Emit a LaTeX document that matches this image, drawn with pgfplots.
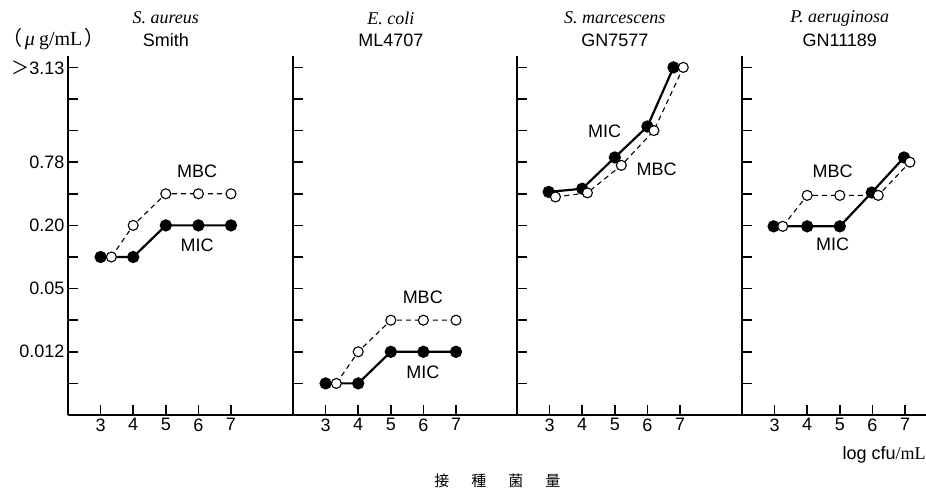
\documentclass[border=0pt]{standalone}
\usepackage{fontspec}
\setmainfont{Liberation Sans}
\newfontfamily\serif{Liberation Serif}
\newfontfamily\cjk{Noto Sans CJK JP}
\usepackage{pgfplots}
\pgfplotsset{compat=1.18}

\newcommand{\lbl}{\fontsize{18}{20}\selectfont}

\pgfplotsset{
  panel/.style={
    scale only axis, x=32.6pt, y=31.6pt,
    xmin=2, xmax=8.9, ymin=0, ymax=11.35,
    axis x line=bottom, axis y line=left,
    axis line style={-, line width=1.5pt},
    tick align=inside, major tick length=10pt,
    tick style={line width=1.5pt, black},
    xtick={3,4,5,6,7}, xticklabels={3,4,5,6,7},
    ytick={1,...,11}, yticklabels={},
    tick label style={font=\lbl},
    clip=false,
  },
  mic/.style={black, line width=2.2pt, mark=*, mark size=5pt,
    mark options={solid, fill=black}},
  mbc/.style={black, line width=1.1pt, dash pattern=on 5pt off 4pt,
    mark=*, mark size=5pt, mark options={solid, fill=white}},
}

\begin{document}
\begin{tikzpicture}
\path[use as bounding box] (-68pt,-77pt) rectangle (858pt,415pt);

% S. aureus
\begin{axis}[panel, at={(0pt,0pt)}, anchor=south west,
  yticklabels={,0.012,,0.05,,0.20,,0.78,,,{\cjk ＞}3.13}]
\addplot[mic] coordinates {(3,5) (4,5) (5,6) (6,6) (7,6)};
\addplot[mbc] coordinates {(3.33,5) (4,6) (5,7) (6,7) (7,7)};
\node[font=\lbl] at (axis cs:5.96,7.71) {MBC};
\node[font=\lbl] at (axis cs:5.96,5.37) {MIC};
\node[font=\lbl] at (axis cs:5,12.56) {\serif\itshape S. aureus};
\node[font=\lbl] at (axis cs:5,11.87) {Smith};
\node[font={\fontsize{20}{22}\selectfont}] at (axis cs:1.56,11.9)
  {{\cjk （}\hspace{2pt}{\serif\itshape μ}\hspace{4pt}{\serif g/mL}\hspace{2pt}{\cjk ）}};
\end{axis}

% E. coli
\begin{axis}[panel, at={(225pt,0pt)}, anchor=south west]
\addplot[mic] coordinates {(3,1) (4,1) (5,2) (6,2) (7,2)};
\addplot[mbc] coordinates {(3.33,1) (4,2) (5,3) (6,3) (7,3)};
\node[font=\lbl] at (axis cs:5.98,3.72) {MBC};
\node[font=\lbl] at (axis cs:5.98,1.35) {MIC};
\node[font=\lbl] at (axis cs:5,12.56) {\serif\itshape E. coli};
\node[font=\lbl] at (axis cs:5,11.87) {ML4707};
\end{axis}

% S. marcescens
\begin{axis}[panel, at={(449pt,0pt)}, anchor=south west]
\addplot[mic] coordinates {(2.97,7.06) (4.0,7.16) (5.0,8.15) (6.0,9.13) (6.8,11.0)};
\addplot[mbc] coordinates {(3.18,6.9) (4.16,7.03) (5.2,7.9) (6.2,9.0) (7.1,11.0)};
\node[font=\lbl] at (axis cs:4.69,8.97) {MIC};
\node[font=\lbl] at (axis cs:6.28,7.77) {MBC};
\node[font=\lbl] at (axis cs:5,12.56) {\serif\itshape S. marcescens};
\node[font=\lbl] at (axis cs:5,11.87) {GN7577};
\node[font={\fontsize{15}{17}\selectfont}] at (axis cs:1.40,-2.09)
  {\cjk 接\hspace{22pt}種\hspace{22pt}菌\hspace{22pt}量};
\end{axis}

% P. aeruginosa
\begin{axis}[panel, at={(674pt,0pt)}, anchor=south west, xmax=7.64]
\addplot[mic] coordinates {(2.97,5.97) (4.0,5.97) (5.0,5.97) (5.98,7.04) (6.97,8.15)};
\addplot[mbc] coordinates {(3.25,5.97) (4.0,6.95) (5.0,6.95) (6.18,6.95) (7.15,8.0)};
\node[font=\lbl] at (axis cs:4.78,7.71) {MBC};
\node[font=\lbl] at (axis cs:4.78,5.4) {MIC};
\node[font=\lbl] at (axis cs:5,12.56) {\serif\itshape P. aeruginosa};
\node[font=\lbl] at (axis cs:5,11.87) {GN11189};
\node[font=\lbl, anchor=east, inner sep=0pt] at (axis cs:7.64,-1.27) {log cfu{\serif /mL}};
\end{axis}
\end{tikzpicture}
\end{document}
